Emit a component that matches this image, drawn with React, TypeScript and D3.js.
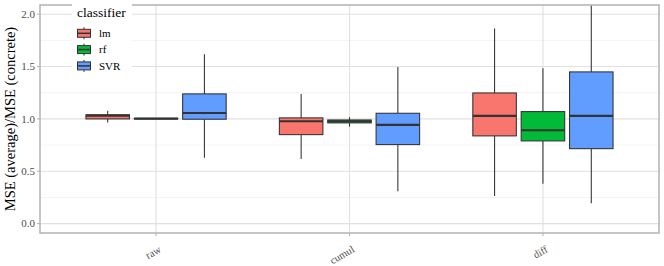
import React from 'react';
import * as d3 from 'd3';

// categories and groups
const features = ['raw', 'cumul', 'diff'];
const classifiers = ['lm', 'rf', 'SVR'];
const fills = ['#F8766D', '#00BA38', '#619CFF'];

// box stats per feature, in classifier order: [lowerWhisker, q1, median, q3, upperWhisker]
const rawStats = [
  [0.965, 1.0, 1.03, 1.04, 1.077],
  [1.0, 1.0, 1.003, 1.005, 1.005],
  [0.63, 0.997, 1.057, 1.239, 1.618],
];
const cumulStats = [
  [0.618, 0.85, 0.978, 1.01, 1.239],
  [0.926, 0.962, 0.978, 0.99, 1.016],
  [0.31, 0.755, 0.943, 1.054, 1.497],
];
const diffStats = [
  [0.265, 0.838, 1.029, 1.248, 1.863],
  [0.382, 0.79, 0.892, 1.07, 1.484],
  [0.195, 0.716, 1.029, 1.449, 2.35],
];
const allStats = [rawStats, cumulStats, diffStats];

const yTicks = [0, 0.5, 1, 1.5, 2];
const yMinor = [0.25, 0.75, 1.25, 1.75];

const W = 664;
const H = 266;
const margin = { top: 5, right: 5, bottom: 33, left: 40 };
const serif: React.CSSProperties = { fontFamily: "'Liberation Serif', 'Times New Roman', serif" };

export default function App() {
  const x0 = margin.left;
  const x1 = W - margin.right;
  const y0 = margin.top;
  const y1 = H - margin.bottom;

  const y = d3.scaleLinear().domain([-0.0895, 2.088]).range([y1, y0]);
  // discrete axis with ggplot-like 0.6 expansion
  const xCat = d3.scaleLinear().domain([0.4, features.length + 0.6]).range([x0, x1]);
  const unit = xCat(2) - xCat(1);
  const dodge = 0.75 * unit;
  const slot = dodge / classifiers.length;
  const boxW = slot * 0.9;

  return (
    <div style={{ position: 'absolute', left: 0, top: 0 }}>
      <svg width={W} height={H} style={{ display: 'block', background: '#fff', ...serif }}>
        <defs>
          <clipPath id="panel-clip">
            <rect x={x0} y={y0} width={x1 - x0} height={y1 - y0} />
          </clipPath>
        </defs>
        <rect x={x0} y={y0} width={x1 - x0} height={y1 - y0} fill="#fff" />
        {/* grid */}
        {yMinor.map(v => (
          <line key={'m' + v} x1={x0} x2={x1} y1={y(v)} y2={y(v)} stroke="#EDEDED" strokeWidth={0.6} />
        ))}
        {yTicks.map(v => (
          <line key={'g' + v} x1={x0} x2={x1} y1={y(v)} y2={y(v)} stroke="#E0E0E0" strokeWidth={1.1} />
        ))}
        {features.map((f, i) => (
          <line key={'v' + f} x1={xCat(i + 1)} x2={xCat(i + 1)} y1={y0} y2={y1} stroke="#E0E0E0" strokeWidth={1.1} />
        ))}

        {/* boxes */}
        <g clipPath="url(#panel-clip)">
          {allStats.map((stats, i) =>
            stats.map((s, j) => {
              const cx = xCat(i + 1) - dodge / 2 + slot * (j + 0.5);
              const [lo, q1, med, q3, hi] = s;
              return (
                <g key={features[i] + classifiers[j]}>
                  <line x1={cx} x2={cx} y1={y(hi)} y2={y(q3)} stroke="#333333" strokeWidth={1.07} />
                  <line x1={cx} x2={cx} y1={y(q1)} y2={y(lo)} stroke="#333333" strokeWidth={1.07} />
                  <rect
                    x={cx - boxW / 2}
                    y={y(q3)}
                    width={boxW}
                    height={Math.max(0.5, y(q1) - y(q3))}
                    fill={fills[j]}
                    stroke="#333333"
                    strokeWidth={1.07}
                  />
                  <line x1={cx - boxW / 2} x2={cx + boxW / 2} y1={y(med)} y2={y(med)} stroke="#333333" strokeWidth={2.1} />
                </g>
              );
            })
          )}
        </g>

        {/* panel border */}
        <rect x={x0} y={y0} width={x1 - x0} height={y1 - y0} fill="none" stroke="#B3B3B3" strokeWidth={1.5} />

        {/* y axis */}
        {yTicks.map(v => (
          <g key={'t' + v}>
            <line x1={x0 - 3} x2={x0} y1={y(v)} y2={y(v)} stroke="#B3B3B3" strokeWidth={1} />
            <text x={x0 - 5} y={y(v)} dy="0.35em" textAnchor="end" style={serif} fontSize={11} fill="#4D4D4D">
              {d3.format('.1f')(v)}
            </text>
          </g>
        ))}
        <text
          transform={`translate(15,${(y0 + y1) / 2}) rotate(-90)`}
          textAnchor="middle"
          style={serif}
          fontSize={14.5}
          fill="#000"
        >
          MSE (average)/MSE (concrete)
        </text>

        {/* x axis */}
        {features.map((f, i) => (
          <g key={'x' + f}>
            <line x1={xCat(i + 1)} x2={xCat(i + 1)} y1={y1} y2={y1 + 3} stroke="#B3B3B3" strokeWidth={1} />
            <text
              transform={`translate(${xCat(i + 1) + 2},${y1 + 12}) rotate(-30)`}
              textAnchor="end"
              dy="0.7em"
              style={serif}
              fontSize={10.5}
              fill="#4D4D4D"
            >
              {f}
            </text>
          </g>
        ))}

        {/* legend */}
        <g>
          <rect x={72} y={0} width={60} height={80} fill="#fff" />
          <text x={77} y={17} style={serif} fontSize={13.5} fill="#000">classifier</text>
          {classifiers.map((c, j) => {
            const cy = 33.3 + j * 16.3;
            return (
              <g key={'l' + c}>
                <line x1={84} x2={84} y1={cy - 6} y2={cy + 6} stroke="#333333" strokeWidth={1} />
                <rect x={77.5} y={cy - 4} width={13} height={8} fill={fills[j]} stroke="#333333" strokeWidth={1} />
                <line x1={77.5} x2={90.5} y1={cy} y2={cy} stroke="#333333" strokeWidth={1.5} />
                <text x={99} y={cy} dy="0.35em" style={serif} fontSize={11} fill="#000">{c}</text>
              </g>
            );
          })}
        </g>
      </svg>
    </div>
  );
}
